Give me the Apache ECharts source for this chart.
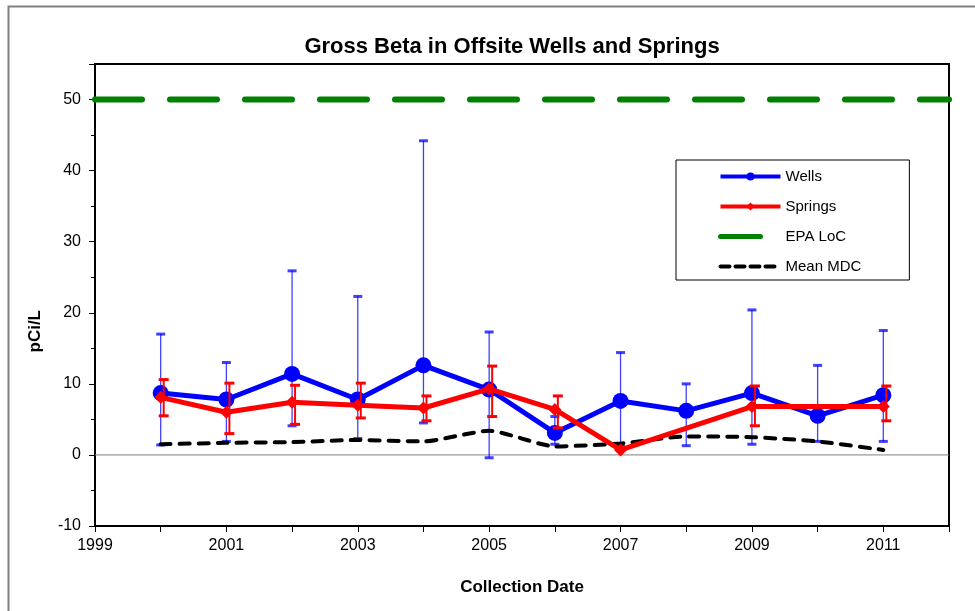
<!DOCTYPE html>
<html>
<head>
<meta charset="utf-8">
<script src="https://cdn.jsdelivr.net/npm/echarts@6/dist/echarts.min.js"></script>
<style>
html,body{margin:0;padding:0;background:#fff;}
#chart{width:975px;height:611px;}
</style>
</head>
<body>
<div id="chart"></div>
<script>
// data
var years=[2000,2001,2002,2003,2004,2005,2006,2007,2008,2009,2010,2011];
var wells=[8.7,7.8,11.4,7.8,12.6,9.2,3.1,7.6,6.2,8.7,5.5,8.4];
var wellsLow=[1.4,1.9,4.1,2.3,4.5,-0.4,1.5,1.2,1.3,1.5,1.9,1.9];
var wellsHigh=[17.0,13.0,25.9,22.3,44.2,17.3,5.4,14.4,10.0,20.4,12.6,17.5];
var springs=[8.1,6.0,7.4,7.0,6.6,9.3,6.4,0.7,null,6.8,null,6.8];
var springsLow=[5.5,3.0,4.3,5.2,4.8,5.4,3.8,null,null,4.1,null,4.8];
var springsHigh=[10.6,10.1,9.8,10.1,8.3,12.5,8.3,null,null,9.7,null,9.7];
var mdc=[1.5,1.7,1.8,2.1,1.9,3.4,1.2,1.6,2.6,2.5,1.9,0.7];
var epaLoc=50;
var xRange=[1999,2012];

var FONT='"Liberation Sans", Arial, sans-serif';

function pairs(vals){
	var out=[];
	for(var i=0;i<years.length;i++){
		out.push([years[i],vals[i]]);
	}
	return out;
}
function bars(lo,hi){
	var out=[];
	for(var i=0;i<years.length;i++){
		if(lo[i]==null||hi[i]==null) continue;
		out.push([years[i],lo[i],hi[i]]);
	}
	return out;
}

//误差棒
function errorBar(color,lineW,capLen,capW,dx){
	return function(params,api){
		var x=api.value(0);
		var lo=api.coord([x,api.value(1)]);
		var hi=api.coord([x,api.value(2)]);
		var cx=lo[0]+dx;
		return {
			type:'group',
			children:[
				{type:'line',shape:{x1:cx,y1:lo[1],x2:cx,y2:hi[1]},style:{stroke:color,lineWidth:lineW}},
				{type:'line',shape:{x1:cx-capLen/2,y1:hi[1],x2:cx+capLen/2,y2:hi[1]},style:{stroke:color,lineWidth:capW}},
				{type:'line',shape:{x1:cx-capLen/2,y1:lo[1],x2:cx+capLen/2,y2:lo[1]},style:{stroke:color,lineWidth:capW}}
			]
		};
	};
}

var option={
	animation:false,
	backgroundColor:'#fff',
	title:{
		text:'Gross Beta in Offsite Wells and Springs',
		left:507,
		textAlign:'center',
		top:31,
		textStyle:{fontFamily:FONT,fontSize:22,fontWeight:'bold',color:'#000'}
	},
	graphic:[
		{type:'rect',left:6,top:4,shape:{width:1000,height:700},style:{fill:'none',stroke:'#808080',lineWidth:2},z:-1,silent:true},
		{type:'text',left:27,top:310,rotation:Math.PI/2,style:{text:'pCi/L',fontFamily:FONT,fontSize:17,fontWeight:'bold',fill:'#000',textAlign:'center',textVerticalAlign:'middle'},silent:true}
	],
	legend:{
		orient:'vertical',
		left:676,
		top:160,
		padding:[9,48,6,42],
		itemWidth:60,
		itemHeight:10,
		itemGap:15,
		borderColor:'#000',
		borderWidth:1,
		borderRadius:0,
		textStyle:{fontFamily:FONT,fontSize:15,color:'#000'},
		data:[
			{name:'Wells',lineStyle:{width:4}},
			{name:'Springs',lineStyle:{width:4},itemStyle:{opacity:1}},
			{name:'EPA LoC',lineStyle:{width:5,type:[40,100],cap:'round'},itemStyle:{opacity:0}},
			{name:'Mean MDC',lineStyle:{width:4,type:[9,6]},itemStyle:{opacity:0}}
		]
	},
	grid:{
		left:95,
		top:64,
		right:26,
		bottom:85,
		show:true,
		borderColor:'#000',
		borderWidth:2
	},
	xAxis:{
		type:'value',
		min:xRange[0],
		max:xRange[1],
		interval:1,
		name:'Collection Date',
		nameLocation:'middle',
		nameGap:53,
		nameTextStyle:{fontFamily:FONT,fontSize:17,fontWeight:'bold',color:'#000'},
		axisLine:{onZero:false,lineStyle:{color:'#000',width:2}},
		axisTick:{show:true,length:6,lineStyle:{color:'#000',width:1}},
		axisLabel:{
			fontFamily:FONT,fontSize:16,color:'#000',margin:12,
			formatter:function(v){return (v%2==1)?String(v):'';}
		},
		splitLine:{show:false}
	},
	yAxis:{
		type:'value',
		min:-10,
		max:55,
		interval:10,
		axisLine:{show:true,lineStyle:{color:'#000',width:2}},
		axisTick:{show:true,length:6,lineStyle:{color:'#000',width:1}},
		minorTick:{show:true,splitNumber:2,length:4,lineStyle:{color:'#000',width:1}},
		axisLabel:{
			fontFamily:FONT,fontSize:16,color:'#000',margin:14,
			formatter:function(v){return v>50?'':String(v);}
		},
		splitLine:{show:false}
	},
	series:[
		{
			name:'zero',
			type:'line',
			data:[[xRange[0],0],[xRange[1],0]],
			symbol:'none',
			silent:true,
			lineStyle:{color:'#808080',width:1},
			z:1
		},
		{
			name:'EPA LoC',
			type:'line',
			data:[[xRange[0],epaLoc],[xRange[1],epaLoc]],
			symbol:'none',
			silent:true,
			itemStyle:{color:'#008000'},
			lineStyle:{color:'#008000',width:6,type:[47,28],cap:'round'},
			z:2
		},
		{
			name:'Wells error',
			type:'custom',
			renderItem:errorBar('rgba(0,0,255,0.75)',1.3,9,3,0),
			data:bars(wellsLow,wellsHigh),
			encode:{x:0,y:[1,2]},
			z:3
		},
		{
			name:'Wells',
			type:'line',
			data:pairs(wells),
			symbol:'circle',
			symbolSize:16,
			itemStyle:{color:'#0000ff'},
			lineStyle:{color:'#0000ff',width:5},
			z:4
		},
		{
			name:'Mean MDC',
			type:'line',
			data:pairs(mdc),
			smooth:0.2,
			symbol:'none',
			itemStyle:{color:'#000'},
			lineStyle:{color:'#000',width:4,type:[10,9],cap:'round'},
			z:5
		},
		{
			name:'Springs error',
			type:'custom',
			renderItem:errorBar('#ff0000',2,10,3,3),
			data:bars(springsLow,springsHigh),
			encode:{x:0,y:[1,2]},
			z:6
		},
		{
			name:'Springs',
			type:'line',
			data:pairs(springs),
			connectNulls:true,
			symbol:'diamond',
			symbolSize:13,
			itemStyle:{color:'#ff0000'},
			lineStyle:{color:'#ff0000',width:5},
			z:7
		}
	]
};

var myChart=echarts.init(document.getElementById('chart'));
myChart.setOption(option);
</script>
</body>
</html>
